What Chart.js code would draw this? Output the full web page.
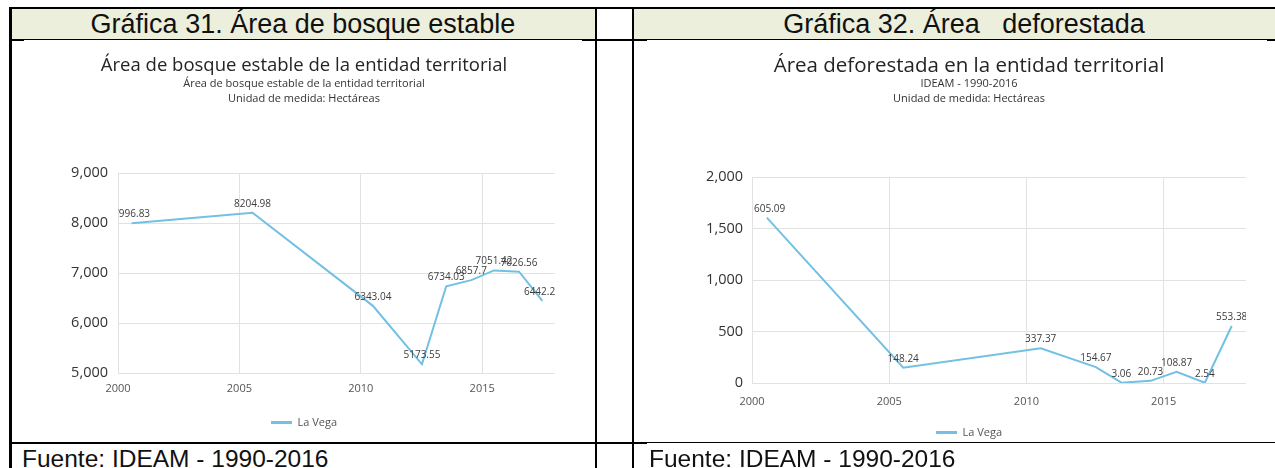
<!DOCTYPE html>
<html lang="es">
<head>
<meta charset="utf-8">
<title>Gráficas 31 y 32 – La Vega</title>
<script src="https://cdn.jsdelivr.net/npm/chart.js@4.4.1/dist/chart.umd.min.js"></script>
<style>
  html, body { margin: 0; padding: 0; background: #fff; }
  body {
    position: relative;
    width: 1275px;
    height: 468px;
    overflow: hidden;
    font-family: "Liberation Sans", Arial, sans-serif;
    color: #111;
  }
  .rule { position: absolute; background: #000; }
  .head {
    position: absolute;
    top: 9px;
    height: 30px;
    line-height: 31px;
    background: #ebefdc;
    font-size: 27px;
    text-align: center;
    white-space: pre;
  }
  .foot { position: absolute; top: 445px; font-size: 24.5px; line-height: 27px; white-space: pre; }
  .plot { position: absolute; top: 41px; }
</style>
</head>
<body>
<div class="head" style="left:11px;width:584px">Gráfica 31. Área de bosque estable</div>
<div class="head" style="left:634px;width:660px">Gráfica 32. Área   deforestada</div>

<!-- table borders -->
<div class="rule" style="left:9px;top:7px;width:1266px;height:2px"></div>
<div class="rule" style="left:9px;top:7px;width:3px;height:461px"></div>
<div class="rule" style="left:595px;top:7px;width:2px;height:461px"></div>
<div class="rule" style="left:632px;top:7px;width:2px;height:461px"></div>
<div class="rule" style="left:11px;top:39px;width:1264px;height:1px"></div>
<div class="rule" style="left:9px;top:39px;width:15px;height:2px"></div>
<div class="rule" style="left:582px;top:39px;width:65px;height:2px"></div>
<div class="rule" style="left:1267px;top:39px;width:8px;height:2px"></div>
<div class="rule" style="left:9px;top:442px;width:638px;height:2px"></div>
<div class="rule" style="left:647px;top:442px;width:628px;height:1px"></div>

<canvas id="forestChart" class="plot" style="left:11px" width="584" height="401"></canvas>
<canvas id="lossChart" class="plot" style="left:634px" width="641" height="407"></canvas>

<div class="foot" style="left:22px">Fuente: IDEAM - 1990-2016</div>
<div class="foot" style="left:649px">Fuente: IDEAM - 1990-2016</div>

<script>
const seriesName = "La Vega";
const yearTicks = [2000, 2005, 2010, 2015];

// Área de bosque estable (ha)
const forestYears = [2000.56, 2005.54, 2010.5, 2012.52, 2013.52, 2014.55, 2015.49, 2016.52, 2017.48];
const forestValues = [7996.83, 8204.98, 6343.04, 5173.55, 6734.03, 6857.7, 7051.42, 7026.56, 6442.24];
const forestAxisTicks = [5000, 6000, 7000, 8000, 9000];

// Área deforestada (ha)
const lossYears = [2000.54, 2005.51, 2010.52, 2012.53, 2013.46, 2014.52, 2015.47, 2016.5, 2017.48];
const lossValues = [1605.09, 148.24, 337.37, 154.67, 3.06, 20.73, 108.87, 2.54, 553.38];
const lossAxisTicks = [0, 500, 1000, 1500, 2000];

const lineColor = "#72c0e3";
const gridColor = "#e2e2e2";
const uiFont = '"Open Sans", "Noto Sans", sans-serif';

// writes each value just above its point, clipped to the plot area
const pointLabels = {
    id: "pointLabels",
    afterDatasetsDraw(chart) {
        const { ctx, chartArea } = chart;
        const meta = chart.getDatasetMeta(0);
        const points = chart.data.datasets[0].data;

        ctx.save();
        ctx.beginPath();
        ctx.rect(chartArea.left, chartArea.top - 20, chartArea.right - chartArea.left, chartArea.bottom - chartArea.top + 20);
        ctx.clip();
        ctx.font = `10px ${uiFont}`;
        ctx.fillStyle = "#3c3c3c";
        ctx.textAlign = "center";
        ctx.textBaseline = "middle";
        meta.data.forEach((element, i) => {
            ctx.fillText(String(points[i].y), element.x, element.y - 9);
        });
        ctx.restore();
    },
};

function toPoints(xs, ys) {
    return xs.map((x, i) => ({ x, y: ys[i] }));
}

// legend swatch as a flat stroke, without the box outline
function flatLegendLabels(chart) {
    return Chart.defaults.plugins.legend.labels.generateLabels(chart)
        .map((item) => ({ ...item, lineWidth: 0 }));
}

function renderLineChart(canvasId, cfg) {
    const canvas = document.getElementById(canvasId);
    const yMin = cfg.yTicks[0];
    const yMax = cfg.yTicks[cfg.yTicks.length - 1];

    return new Chart(canvas, {
        type: "line",
        data: {
            datasets: [
                {
                    label: seriesName,
                    data: toPoints(cfg.years, cfg.values),
                    borderColor: lineColor,
                    backgroundColor: lineColor,
                    borderWidth: 2,
                    pointRadius: 0,
                    tension: 0,
                },
            ],
        },
        options: {
            responsive: false,
            animation: false,
            layout: {
                padding: { left: cfg.padLeft, right: cfg.padRight, top: 0, bottom: cfg.padBottom },
            },
            plugins: {
                title: {
                    display: true,
                    text: cfg.title,
                    color: "#252423",
                    font: { family: uiFont, size: cfg.titleSize, weight: "normal", lineHeight: "20px" },
                    padding: { top: 15, bottom: 0 },
                },
                subtitle: {
                    display: true,
                    text: cfg.subtitle,
                    color: "#333333",
                    font: { family: uiFont, size: 11, lineHeight: "15px" },
                    padding: { top: 0, bottom: cfg.subtitleGap },
                },
                legend: {
                    position: "bottom",
                    labels: {
                        boxWidth: 21,
                        boxHeight: 3,
                        padding: cfg.legendPad,
                        color: "#555555",
                        font: { family: uiFont, size: 11 },
                        generateLabels: flatLegendLabels,
                    },
                },
                tooltip: { enabled: false },
            },
            scales: {
                x: {
                    type: "linear",
                    min: 2000,
                    max: 2018,
                    afterFit: (scale) => { scale.height = cfg.xAxisHeight; },
                    afterBuildTicks: (scale) => { scale.ticks = yearTicks.map((v) => ({ value: v })); },
                    grid: { color: gridColor, drawTicks: false },
                    border: { display: false },
                    ticks: {
                        padding: cfg.xTickPad,
                        color: "#555555",
                        font: { family: uiFont, size: 11 },
                        callback: (value) => String(value),
                    },
                },
                y: {
                    min: yMin,
                    max: yMax,
                    afterFit: (scale) => { scale.width = cfg.yAxisWidth; },
                    afterBuildTicks: (scale) => { scale.ticks = cfg.yTicks.map((v) => ({ value: v })); },
                    grid: { color: gridColor, drawTicks: false },
                    border: { display: false },
                    ticks: {
                        padding: cfg.yTickPad,
                        color: "#333333",
                        font: { family: uiFont, size: 14.5 },
                        callback: (value) => value.toLocaleString("en-US"),
                    },
                },
            },
        },
        plugins: [pointLabels],
    });
}

renderLineChart("forestChart", {
    title: "Área de bosque estable de la entidad territorial",
    titleSize: 18.5,
    subtitle: ["Área de bosque estable de la entidad territorial", "Unidad de medida: Hectáreas"],
    years: forestYears,
    values: forestValues,
    yTicks: forestAxisTicks,
    padLeft: 42,
    padRight: 40,
    padBottom: 4,
    subtitleGap: 67,
    xAxisHeight: 36,
    legendPad: 8,
    xTickPad: 9,
    yAxisWidth: 65,
    yTickPad: 10,
});

renderLineChart("lossChart", {
    title: "Área deforestada en la entidad territorial",
    titleSize: 20.5,
    subtitle: ["IDEAM - 1990-2016", "Unidad de medida: Hectáreas"],
    years: lossYears,
    values: lossValues,
    yTicks: lossAxisTicks,
    padLeft: 58,
    padRight: 29,
    padBottom: 0,
    subtitleGap: 71,
    xAxisHeight: 39,
    legendPad: 5,
    xTickPad: 12,
    yAxisWidth: 60,
    yTickPad: 9,
});
</script>
</body>
</html>
